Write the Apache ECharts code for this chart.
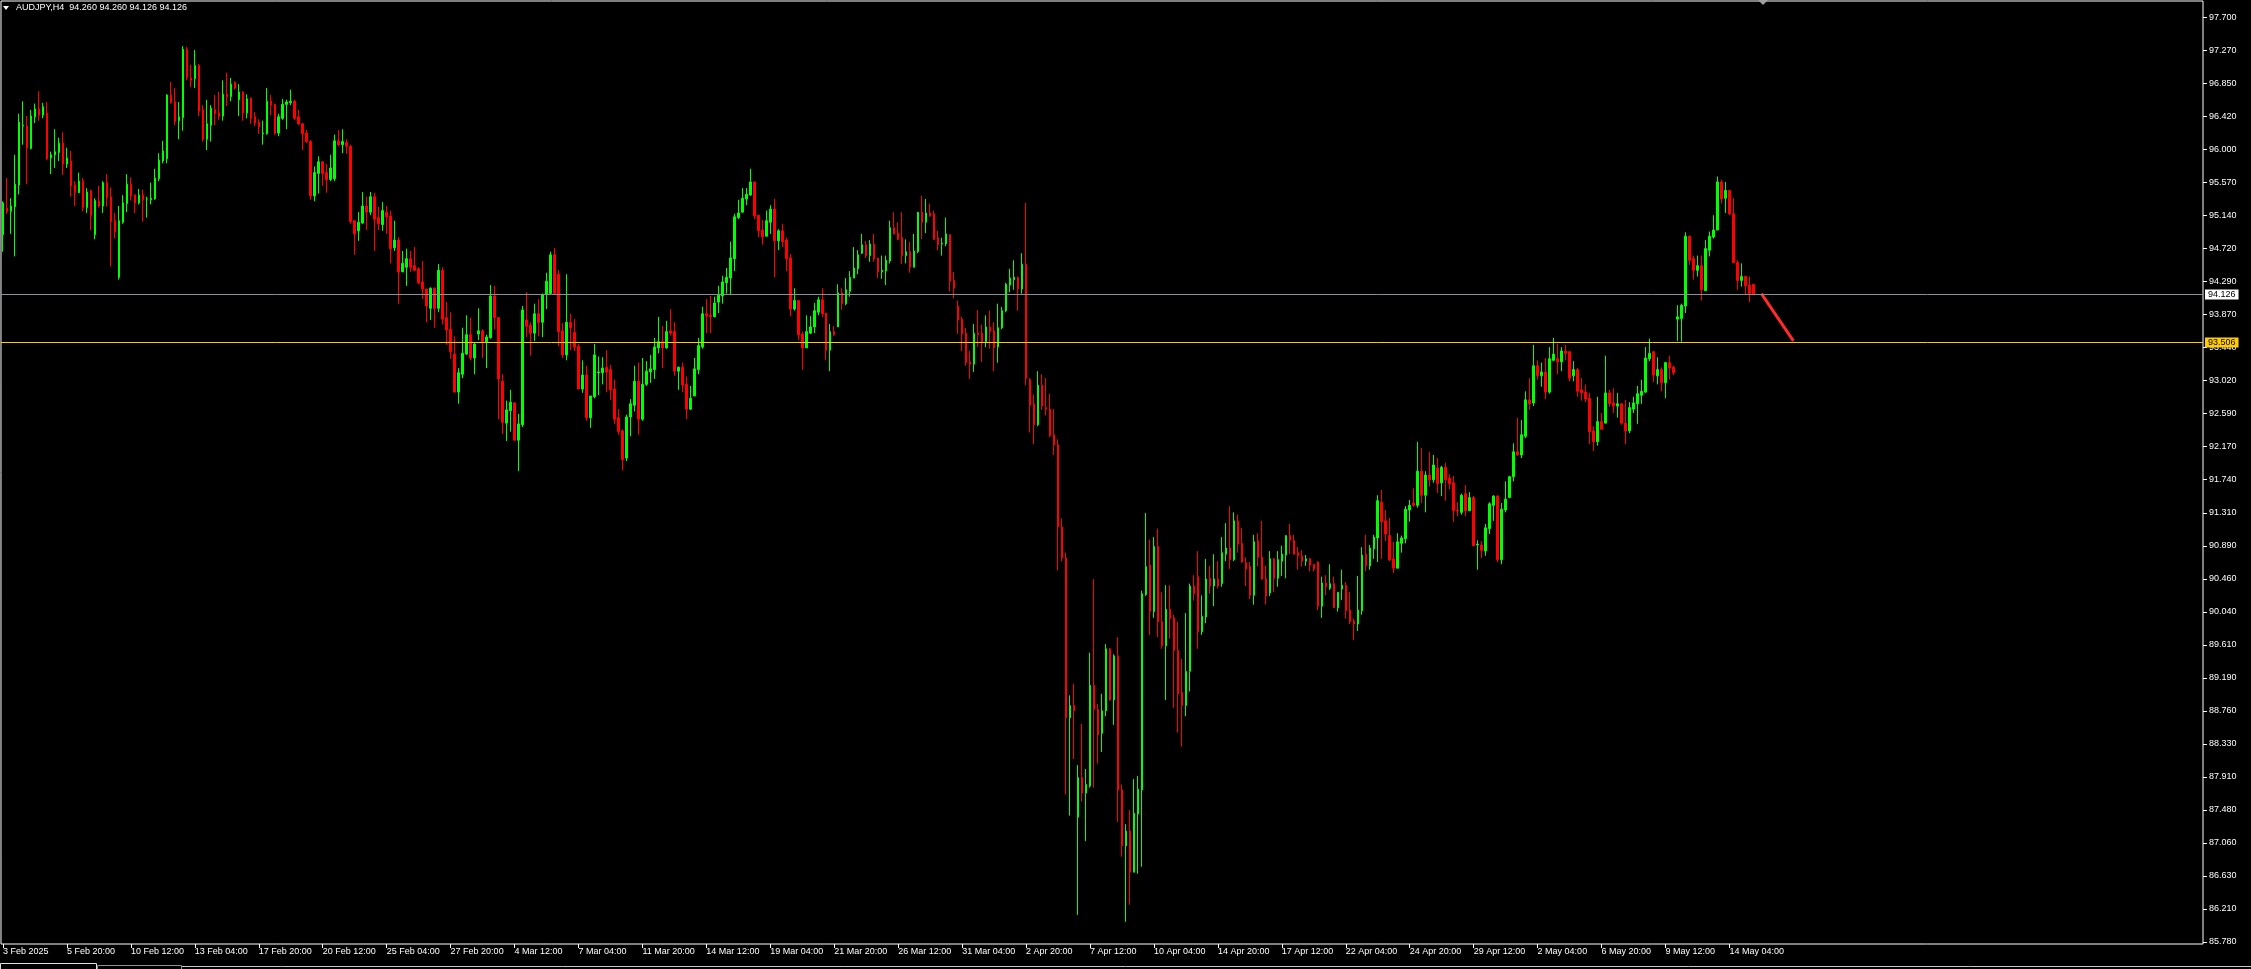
<!DOCTYPE html>
<html><head><meta charset="utf-8">
<script src="https://cdn.jsdelivr.net/npm/echarts@6/dist/echarts.min.js"></script>
<style>html,body{margin:0;padding:0;background:#000;overflow:hidden}#c{width:2251px;height:969px}</style>
</head><body><div id="c"></div>
<script>
// ---- data ----
const headerText = 'AUDJPY,H4  94.260 94.260 94.126 94.126';
const xTickLabels = ['3 Feb 2025','5 Feb 20:00','10 Feb 12:00','13 Feb 04:00','17 Feb 20:00','20 Feb 12:00','25 Feb 04:00','27 Feb 20:00','4 Mar 12:00','7 Mar 04:00','11 Mar 20:00','14 Mar 12:00','19 Mar 04:00','21 Mar 20:00','26 Mar 12:00','31 Mar 04:00','2 Apr 20:00','7 Apr 12:00','10 Apr 04:00','14 Apr 20:00','17 Apr 12:00','22 Apr 04:00','24 Apr 20:00','29 Apr 12:00','2 May 04:00','6 May 20:00','9 May 12:00','14 May 04:00'];
const barsPerLabel = 16;
const totalSlots = 551;
const yTickLabels = ['85.780','86.210','86.630','87.060','87.480','87.910','88.330','88.760','89.190','89.610','90.040','90.460','90.890','91.310','91.740','92.170','92.590','93.020','93.440','93.870','94.290','94.720','95.140','95.570','96.000','96.420','96.850','97.270','97.700'];
const yLabelMin = 85.78, yLabelMax = 97.70;
const priceMin = 85.7542, priceMax = 97.9127;

const opens = [
94.90,95.24,95.20,95.26,95.54,96.30,96.30,96.01,96.42,96.52,
96.44,96.47,95.89,95.93,95.96,96.08,95.81,95.85,95.54,95.44,
95.59,95.25,95.47,94.90,95.33,95.27,95.57,95.39,95.08,94.35,
95.06,95.30,95.55,95.41,95.31,95.41,95.36,95.35,95.36,95.62,
95.85,95.88,96.70,96.61,96.37,96.41,97.29,96.92,96.91,97.08,
96.51,96.13,96.31,96.51,96.47,96.43,96.71,96.68,96.86,96.64,
96.74,96.47,96.66,96.42,96.35,96.20,96.20,96.62,96.58,96.21,
96.40,96.58,96.60,96.62,96.42,96.33,96.21,96.10,95.40,95.69,
95.84,95.70,95.61,95.62,96.11,96.06,96.09,96.04,95.08,94.95,
95.05,95.27,95.19,95.39,95.12,95.03,95.19,95.14,94.73,94.83,
94.42,94.48,94.59,94.50,94.46,94.29,94.20,93.95,94.21,93.95,
94.44,93.83,93.68,93.36,92.87,93.10,93.36,93.61,93.31,93.62,
93.66,93.52,93.57,94.11,93.83,93.01,92.47,92.63,92.73,92.25,
92.45,93.80,93.73,93.63,93.88,93.77,94.13,94.14,94.64,94.39,
93.66,93.35,93.77,93.64,93.46,92.91,93.09,92.54,92.81,93.12,
93.12,93.19,93.16,92.91,92.54,92.37,92.02,92.55,92.70,93.01,
92.52,92.97,93.13,93.16,93.44,93.52,93.44,93.66,93.65,93.14,
93.19,92.97,92.65,92.82,93.16,93.45,93.88,93.86,93.84,94.03,
94.11,94.28,94.34,94.59,95.12,95.19,95.36,95.41,95.58,95.15,
94.96,94.88,95.06,95.23,94.82,94.95,94.83,94.60,93.94,94.05,
93.62,93.44,93.63,93.71,93.90,94.06,93.89,93.41,93.65,93.71,
94.15,94.01,94.17,94.34,94.46,94.66,94.77,94.63,94.78,94.60,
94.42,94.43,94.56,94.99,94.92,94.86,94.63,94.68,94.48,94.68,
95.19,95.06,95.18,95.17,94.86,94.78,94.78,94.90,94.31,93.98,
93.81,93.63,93.26,93.23,93.63,93.63,93.52,93.71,93.66,93.45,
93.70,93.92,94.25,94.32,94.35,94.20,94.52,93.03,92.72,92.45,
92.96,92.67,92.65,92.32,92.19,91.13,90.73,88.67,88.83,87.39,
87.90,87.70,87.79,89.09,88.78,88.47,88.76,89.56,88.90,89.47,
87.74,87.02,87.21,86.68,87.43,87.74,90.26,90.64,90.04,90.88,
89.91,89.60,90.07,89.96,89.54,89.00,88.83,89.27,90.37,90.49,
89.78,89.97,90.47,90.37,90.46,90.40,90.78,90.86,90.71,91.21,
90.92,90.67,90.62,90.25,90.95,90.74,90.47,90.28,90.72,90.47,
90.69,90.77,91.02,90.96,90.80,90.76,90.69,90.72,90.65,90.68,
90.11,90.41,90.34,90.40,90.09,90.33,90.38,90.06,89.92,89.88,
90.05,90.78,90.63,90.85,90.99,91.45,91.21,91.02,90.72,90.60,
90.92,90.98,91.35,91.44,91.41,91.85,91.54,91.80,91.74,91.89,
91.70,91.90,91.76,91.70,91.35,91.32,91.56,91.34,91.51,90.90,
90.90,90.82,91.11,91.41,91.53,90.71,91.35,91.51,91.78,92.10,
92.06,92.30,92.77,92.73,93.21,93.08,93.13,92.87,93.28,93.30,
93.26,93.40,93.39,93.08,93.16,92.90,92.87,92.79,92.37,92.23,
92.49,92.47,92.86,92.73,92.69,92.72,92.47,92.37,92.65,92.72,
92.83,92.87,93.30,93.39,93.08,93.16,92.99,93.25,93.19,93.81,
93.82,93.98,94.88,94.59,94.44,94.50,94.18,94.70,94.87,94.96,
95.58,95.37,95.47,95.17,94.54,94.31,94.36,94.25,94.26];

const highs = [
95.33,95.63,95.37,95.93,96.46,96.62,96.43,96.51,96.59,96.75,
96.60,96.61,95.97,96.26,96.15,96.22,96.02,95.98,95.59,95.70,
95.63,95.50,95.48,95.37,95.53,95.59,95.68,95.51,95.18,95.27,
95.41,95.68,95.64,95.42,95.49,95.48,95.39,95.57,95.75,95.95,
96.11,96.71,96.87,96.79,96.61,97.33,97.32,97.09,97.28,97.10,
96.57,96.64,96.57,96.70,96.74,96.89,96.99,96.92,96.88,96.84,
96.75,96.71,96.67,96.48,96.39,96.37,96.79,96.70,96.59,96.46,
96.65,96.64,96.77,96.64,96.51,96.34,96.25,96.12,95.78,95.91,
95.84,95.81,95.93,96.19,96.25,96.26,96.13,96.06,95.08,95.19,
95.45,95.39,95.45,95.44,95.26,95.32,95.27,95.21,95.08,94.87,
94.69,94.72,94.69,94.74,94.48,94.56,94.20,94.22,94.22,94.52,
94.48,94.03,93.90,93.59,93.18,93.70,93.86,93.83,93.50,93.95,
93.68,93.61,94.25,94.24,93.83,93.10,92.76,92.90,92.74,92.59,
93.98,94.16,93.77,94.01,94.07,94.14,94.41,94.68,94.73,94.44,
93.76,94.39,93.88,93.81,93.49,93.28,93.21,92.82,93.49,93.33,
93.32,93.41,93.22,93.03,92.65,92.39,92.58,92.78,93.21,93.25,
93.31,93.27,93.35,93.57,93.84,93.72,93.79,93.94,93.77,93.20,
93.25,93.07,92.95,93.31,93.57,93.97,94.07,94.11,94.10,94.24,
94.37,94.47,94.81,95.17,95.35,95.50,95.50,95.75,95.58,95.15,
95.09,95.21,95.28,95.36,94.97,95.04,94.86,94.65,94.21,94.05,
93.65,93.86,93.85,94.02,94.10,94.21,93.89,93.75,93.72,94.26,
94.21,94.34,94.43,94.74,94.70,94.91,94.82,94.83,94.91,94.60,
94.63,94.63,95.08,95.19,95.06,95.19,94.84,94.81,94.91,95.19,
95.40,95.36,95.30,95.21,94.95,94.86,95.12,94.90,94.42,94.05,
93.84,93.70,93.40,93.75,93.93,93.74,93.86,93.92,93.77,94.01,
93.97,94.28,94.46,94.57,94.36,94.66,95.31,93.05,92.84,93.14,
93.10,93.05,92.85,92.65,92.26,91.24,90.80,88.96,89.11,88.06,
88.59,88.01,89.51,90.46,88.85,88.98,89.62,89.57,89.49,89.71,
87.81,87.30,87.48,87.88,87.92,90.31,91.31,90.97,91.00,91.11,
90.29,90.38,90.38,90.00,89.91,89.43,90.02,90.40,90.51,90.82,
90.25,90.72,90.63,90.78,90.69,91.00,91.18,91.40,91.32,91.29,
91.12,90.74,90.68,91.03,91.05,91.21,90.63,90.82,90.73,90.82,
90.89,91.02,91.17,91.03,90.87,90.83,90.77,90.73,90.65,90.69,
90.49,90.51,90.65,90.49,90.29,90.58,90.42,90.29,89.95,90.50,
90.87,91.03,90.90,91.03,91.54,91.61,91.35,91.25,90.94,91.05,
91.02,91.40,91.48,91.63,92.23,92.15,91.85,92.10,92.06,92.02,
91.92,91.96,91.81,91.79,91.45,91.56,91.67,91.58,91.53,90.96,
90.95,91.17,91.45,91.54,91.54,91.44,91.72,91.79,92.21,92.54,
92.51,92.88,93.05,93.48,93.28,93.25,93.31,93.45,93.57,93.49,
93.45,93.48,93.40,93.27,93.18,93.05,92.97,92.86,92.43,92.81,
92.60,93.34,92.90,92.92,92.86,92.72,92.77,92.74,92.81,92.95,
93.03,93.45,93.56,93.40,93.32,93.19,93.26,93.34,93.21,93.99,
94.01,94.93,94.89,94.63,94.63,94.63,94.83,94.94,95.15,95.65,
95.61,95.58,95.48,95.37,94.57,94.53,94.37,94.36,94.26];

const lows = [
94.68,95.17,94.91,94.62,95.42,96.06,95.55,96.00,96.34,96.37,
96.40,95.86,95.68,95.76,95.85,95.67,95.76,95.39,95.27,95.44,
95.20,95.18,94.96,94.84,95.25,95.18,95.26,94.49,94.85,94.32,
95.04,95.19,95.34,95.18,95.29,95.07,95.12,95.29,95.35,95.59,
95.82,95.82,96.59,96.31,96.13,96.24,96.89,96.80,96.79,96.43,
96.10,95.99,96.10,96.31,96.38,96.37,96.56,96.62,96.77,96.43,
96.37,96.40,96.33,96.30,96.20,96.06,96.19,96.44,96.19,96.17,
96.38,96.26,96.57,96.38,96.31,95.99,96.08,95.35,95.33,95.43,
95.53,95.44,95.59,95.59,96.04,95.95,95.94,95.04,94.64,94.82,
95.04,94.96,95.15,94.69,94.96,94.95,94.91,94.53,94.69,94.01,
94.42,94.24,94.42,94.43,94.26,94.07,93.77,93.80,93.70,93.90,
93.74,93.48,93.30,92.87,92.72,93.05,93.35,93.28,93.10,93.54,
93.31,93.18,93.56,93.68,92.52,92.33,92.24,92.36,92.25,91.85,
92.42,93.58,93.34,93.53,93.59,93.58,93.94,94.14,94.14,93.46,
93.31,93.28,93.41,93.40,92.91,92.86,92.50,92.41,92.79,92.83,
92.97,92.87,92.77,92.46,92.32,91.86,91.98,92.30,92.62,92.32,
92.50,92.95,92.99,93.04,93.37,93.18,93.43,93.60,93.08,92.90,
92.87,92.52,92.64,92.82,93.10,93.43,93.63,93.63,93.84,93.89,
94.01,94.14,94.12,94.43,95.10,95.19,95.28,95.40,95.10,94.87,
94.77,94.88,94.91,94.35,94.70,94.74,94.43,93.85,93.92,93.54,
93.16,93.44,93.62,93.63,93.86,93.84,93.28,93.14,93.59,93.71,
93.93,93.99,94.10,94.34,94.39,94.65,94.60,94.55,94.55,94.34,
94.33,94.25,94.53,94.90,94.83,94.52,94.53,94.41,94.48,94.66,
94.84,94.92,95.13,94.83,94.70,94.63,94.75,94.17,94.08,93.62,
93.40,93.21,93.04,93.13,93.45,93.26,93.45,93.43,93.14,93.25,
93.68,93.90,94.16,94.19,93.92,94.14,92.96,92.35,92.20,92.43,
92.64,92.57,92.29,92.06,90.57,90.69,87.68,87.41,88.14,86.13,
87.59,87.08,87.77,87.77,88.08,88.23,88.69,88.89,88.58,87.33,
86.88,86.04,86.26,86.68,86.66,86.75,90.24,89.74,89.96,89.71,
89.56,88.90,89.69,88.80,88.48,88.30,88.69,89.01,90.18,89.56,
89.74,89.89,90.27,90.11,90.34,90.36,90.69,90.59,90.69,90.80,
90.67,90.37,90.20,90.13,90.62,90.45,90.13,90.24,90.29,90.36,
90.50,90.47,90.78,90.78,90.58,90.62,90.63,90.56,90.56,90.06,
89.96,90.25,90.32,90.09,90.04,90.19,89.95,89.88,89.67,89.79,
90.00,90.56,90.58,90.72,90.68,90.72,90.95,90.69,90.54,90.60,
90.80,90.92,91.20,91.39,91.38,91.44,91.32,91.65,91.70,91.57,
91.53,91.47,91.62,91.20,91.27,91.29,91.27,91.34,90.89,90.58,
90.73,90.76,91.04,91.21,90.68,90.65,91.32,91.51,91.72,92.05,
92.02,92.28,92.64,92.69,93.03,92.94,92.78,92.85,93.27,93.10,
93.14,93.28,93.01,93.01,92.81,92.76,92.74,92.20,92.11,92.18,
92.39,92.47,92.68,92.60,92.54,92.45,92.20,92.34,92.60,92.46,
92.72,92.86,93.27,93.00,92.97,92.88,92.79,93.03,93.09,93.53,
93.52,93.89,94.51,94.32,94.36,94.05,94.17,94.62,94.85,94.96,
95.30,95.18,95.15,94.53,94.19,94.23,94.13,94.03,94.126];

const closes = [
95.31,95.20,95.27,95.55,96.35,96.31,96.02,96.43,96.52,96.44,
96.55,95.88,95.93,95.97,96.08,95.81,95.89,95.53,95.44,95.59,
95.25,95.45,95.15,95.34,95.27,95.57,95.38,95.07,94.94,95.08,
95.31,95.55,95.40,95.31,95.41,95.35,95.36,95.37,95.63,95.86,
95.98,96.70,96.60,96.36,96.42,97.29,96.93,96.89,97.08,96.49,
96.13,96.33,96.53,96.46,96.43,96.71,96.68,96.84,96.79,96.74,
96.47,96.65,96.40,96.34,96.29,96.21,96.62,96.57,96.20,96.42,
96.58,96.61,96.62,96.40,96.33,96.20,96.10,95.40,95.70,95.84,
95.69,95.61,95.76,96.11,96.06,96.10,96.04,95.07,94.91,95.06,
95.27,95.19,95.39,95.10,95.04,95.21,95.13,94.72,94.83,94.42,
94.53,94.59,94.48,94.44,94.28,94.20,93.98,94.21,93.95,94.44,
93.81,93.67,93.39,92.87,93.12,93.37,93.61,93.31,93.49,93.66,
93.52,93.58,94.11,93.83,93.04,92.48,92.64,92.74,92.25,92.46,
93.93,93.72,93.63,93.88,93.77,94.13,94.30,94.64,94.14,93.65,
93.35,93.77,93.70,93.45,92.91,93.09,92.54,92.82,93.35,93.13,
93.18,93.13,92.90,92.52,92.36,92.00,92.55,92.72,93.01,92.52,
92.97,93.14,93.17,93.45,93.52,93.44,93.65,93.63,93.14,93.19,
92.96,92.65,92.79,93.17,93.47,93.88,93.85,93.84,94.02,94.12,
94.29,94.35,94.60,95.13,95.18,95.37,95.42,95.58,95.14,94.95,
94.87,95.08,95.23,94.82,94.95,94.81,94.59,93.94,94.05,93.61,
93.44,93.65,93.71,93.92,94.06,93.88,93.41,93.65,93.61,94.15,
94.01,94.19,94.35,94.47,94.64,94.77,94.63,94.78,94.59,94.42,
94.44,94.57,94.99,94.91,94.84,94.63,94.68,94.48,94.69,95.19,
95.06,95.18,95.14,94.84,94.77,94.79,94.91,94.30,94.21,93.80,
93.62,93.25,93.23,93.63,93.61,93.52,93.71,93.65,93.44,93.70,
93.92,94.26,94.34,94.35,94.20,94.52,93.05,92.70,92.45,92.96,
92.69,92.65,92.31,92.19,91.13,90.73,88.67,88.83,88.76,87.90,
87.70,87.81,89.09,88.78,88.45,88.76,89.56,88.90,89.47,87.74,
87.02,87.21,86.68,87.44,87.75,90.27,90.62,90.04,90.88,89.91,
89.60,90.07,89.95,89.54,88.98,88.83,89.27,90.37,90.27,89.78,
89.98,90.46,90.37,90.46,90.37,90.80,90.86,90.71,91.21,90.91,
90.68,90.59,90.25,90.94,90.74,90.46,90.24,90.72,90.47,90.71,
90.78,91.02,90.96,90.78,90.76,90.69,90.72,90.64,90.59,90.11,
90.41,90.36,90.40,90.09,90.29,90.38,90.05,89.91,89.88,90.06,
90.77,90.63,90.86,91.00,91.47,91.20,91.04,90.71,90.60,90.94,
90.99,91.36,91.41,91.41,91.85,91.54,91.80,91.74,91.93,91.69,
91.90,91.74,91.69,91.34,91.34,91.54,91.34,91.51,90.89,90.91,
90.83,91.12,91.43,91.53,90.71,91.36,91.49,91.78,92.10,92.06,
92.32,92.77,92.72,93.21,93.08,93.13,92.87,93.30,93.36,93.26,
93.40,93.37,93.05,93.16,92.88,92.86,92.78,92.36,92.23,92.49,
92.39,92.86,92.72,92.69,92.72,92.47,92.37,92.67,92.73,92.85,
92.88,93.31,93.37,93.09,93.16,92.99,93.25,93.18,93.12,93.84,
93.99,94.88,94.57,94.44,94.50,94.19,94.72,94.88,94.96,95.58,
95.36,95.47,95.17,94.54,94.31,94.36,94.24,94.14,94.126];

const levelPrices = [94.126, 93.506];
const levelColors = ['#8a9099', '#ffcc00'];
const levelBoxColors = ['#ffffff', '#ffcc00'];
const trendIdx = [440, 448];
const trendPrice = [94.14, 93.53];

// ---- build ----
const FONT = 'Liberation Sans';
const slots = Array.from({length: totalSlots}, (_, i) => String(i));
const isLabelSlot = (i) => i % barsPerLabel === 0 && (i / barsPerLabel) < xTickLabels.length;
const candles = opens.map((o, i) => [o, closes[i], lows[i], highs[i]]);
const yInterval = (yLabelMax - yLabelMin) / (yTickLabels.length - 1);

const chart = echarts.init(document.getElementById('c'), null, {renderer: 'canvas'});
const gridPos = {left: -2.3, right: 48};
chart.setOption({
  backgroundColor: '#000000',
  animation: false,
  title: {
    text: headerText, left: 16, top: 3, padding: 0,
    textStyle: {color: '#ffffff', fontSize: 9, fontWeight: 'normal', fontFamily: FONT}
  },
  grid: [
    {left: gridPos.left, right: gridPos.right, top: 1, bottom: 25, show: true, borderColor: '#ffffff', borderWidth: 1, backgroundColor: 'transparent'},
    {left: gridPos.left, right: gridPos.right, top: 17.5, bottom: 27, show: false}
  ],
  xAxis: [
    {
      type: 'category', gridIndex: 0, data: slots, boundaryGap: true,
      axisLine: {show: false},
      axisTick: {show: true, length: 4, alignWithLabel: true, interval: (i) => isLabelSlot(i), lineStyle: {color: '#ffffff'}},
      axisLabel: {
        show: true, interval: (i) => isLabelSlot(i), align: 'left', margin: 3,
        color: '#ffffff', fontSize: 9, fontFamily: FONT,
        formatter: (v, i) => isLabelSlot(i) ? xTickLabels[i / barsPerLabel] : ''
      },
      splitLine: {show: false}
    },
    {type: 'category', gridIndex: 1, data: slots, show: false}
  ],
  yAxis: [
    {type: 'value', gridIndex: 0, min: priceMin, max: priceMax, position: 'right', show: false, splitLine: {show: false}},
    {
      type: 'value', gridIndex: 1, min: yLabelMin, max: yLabelMax, interval: yInterval, position: 'right',
      axisLine: {show: false},
      axisTick: {show: true, length: 4, inside: false, lineStyle: {color: '#ffffff'}},
      axisLabel: {
        show: true, margin: 6, color: '#ffffff', fontSize: 9, fontFamily: FONT,
        formatter: (v) => yTickLabels[Math.round((v - yLabelMin) / yInterval)] || ''
      },
      splitLine: {show: false}
    }
  ],
  series: [
    {
      type: 'candlestick', xAxisIndex: 0, yAxisIndex: 0, data: candles,
      barWidth: 2,
      itemStyle: {color: '#00ff00', color0: '#ff0000', borderColor: '#00ff00', borderColor0: '#ff0000', borderWidth: 1},
      silent: true,
      markLine: {
        silent: true, symbol: ['none', 'none'], animation: false,
        data: levelPrices.map((p, k) => ({
          yAxis: p,
          lineStyle: {color: levelColors[k], width: 1, type: 'solid'},
          label: {
            show: true, position: 'end', distance: 2, color: '#000000', fontSize: 9, fontFamily: FONT,
            backgroundColor: levelBoxColors[k], padding: [1, 3, 0, 3],
            formatter: () => p.toFixed(3)
          }
        }))
      }
    },
    {
      type: 'line', xAxisIndex: 0, yAxisIndex: 0, silent: true,
      data: trendIdx.map((x, k) => [x, trendPrice[k]]),
      symbol: 'none', lineStyle: {color: '#ff2a2a', width: 3}
    }
  ],
  graphic: [
    {type: 'polygon', shape: {points: [[3, 6], [9, 6], [6, 10]]}, style: {fill: '#ffffff'}},
    {type: 'polygon', shape: {points: [[1758, 0], [1768, 0], [1763, 5]]}, style: {fill: '#a0a0a0'}},
    {type: 'line', shape: {x1: 0, y1: 966.5, x2: 2251, y2: 966.5}, style: {stroke: '#c8c8c8', lineWidth: 1}},
    {type: 'rect', shape: {x: 0.5, y: 963.5, width: 96, height: 8}, style: {fill: '#000000', stroke: '#e0e0e0', lineWidth: 1}},
    {type: 'rect', shape: {x: 97.5, y: 965.5, width: 84, height: 6}, style: {fill: '#000000', stroke: '#909090', lineWidth: 1}}
  ]
});
</script>
</body></html>
